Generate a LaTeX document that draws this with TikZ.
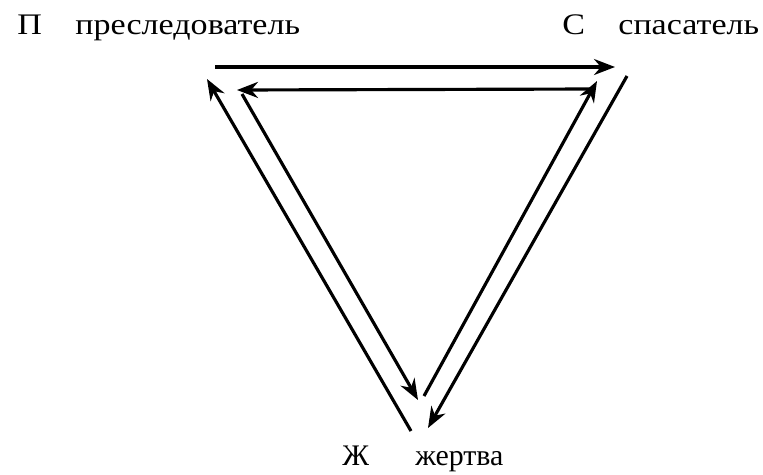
\documentclass[tikz,border=0pt]{standalone}
\usepackage{fontspec}
\setmainfont{Liberation Serif}
\usetikzlibrary{arrows.meta}

\begin{document}
\begin{tikzpicture}[x=0.02cm,y=-0.02cm,
  lbl/.style={anchor=base west,inner sep=0pt,font=\fontsize{17}{20}\selectfont},
  wide lbl/.style={lbl,xscale=1.14},
  arr/.style={-{Stealth[length=4.2mm,width=3.2mm]},line width=1.8pt}]
 \useasboundingbox (0,0) rectangle (763,474);
 \node[wide lbl] (P) at (17,34) {П};
 \node[wide lbl] (Ptxt) at (75,34) {преследователь};
 \node[wide lbl] (S) at (562,34) {С};
 \node[wide lbl] (Stxt) at (618,34) {спасатель};
 \node[lbl] (Zh) at (342,465) {Ж};
 \node[lbl] (Zhtxt) at (415,465) {жертва};
 % outer triangle
 \coordinate (ot1) at (215,67);  \coordinate (ot2) at (615,67);
 \coordinate (or1) at (627,76);  \coordinate (or2) at (428,428);
 \coordinate (ol1) at (411,431); \coordinate (ol2) at (207,79);
 % inner triangle
 \coordinate (it1) at (592,89);  \coordinate (it2) at (237,90);
 \coordinate (il1) at (242,94);  \coordinate (il2) at (418,400);
 \coordinate (ir1) at (424,396); \coordinate (ir2) at (597,81);
 \foreach \a/\b in {ot1/ot2,or1/or2,ol1/ol2,it1/it2,il1/il2,ir1/ir2} \draw[arr] (\a)--(\b);
\end{tikzpicture}
\end{document}
